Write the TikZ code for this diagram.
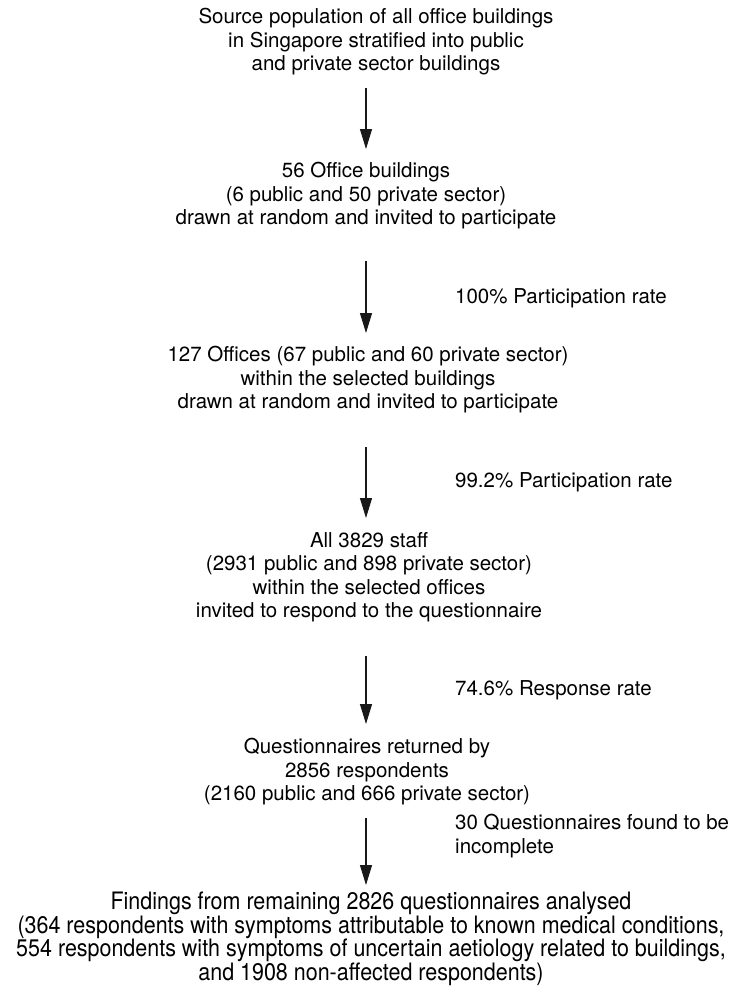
\documentclass[tikz,border=0pt]{standalone}
\usepackage{fontspec}
\setmainfont{TeX Gyre Heros}
\newfontfamily\condfont[FakeStretch=0.895]{TeX Gyre Heros}
\usetikzlibrary{arrows.meta}
\tikzset{
  blk/.style={inner sep=0pt, align=center, font=\fontsize{20.5}{23.5}\selectfont},
  lastblk/.style={inner sep=0pt, align=center, font=\condfont\fontsize{24}{23.5}\selectfont},
  lbl/.style={inner sep=0pt, anchor=west, align=left, font=\fontsize{20.5}{23.5}\selectfont},
  arr/.style={line width=1.2pt, -{Triangle[length=20pt,width=12pt]}, color=black!90}
}
\begin{document}
\begin{tikzpicture}[x=1pt,y=-1pt]
\useasboundingbox (0,0) rectangle (743,994);
\node[blk] (b1) at (376,42) {Source population of all office buildings\\in Singapore stratified into public\\and private sector buildings};
\node[blk] (b2) at (366,196) {56 Office buildings\\(6 public and 50 private sector)\\drawn at random and invited to participate};
\node[blk] (b3) at (368,380) {127 Offices (67 public and 60 private sector)\\within the selected buildings\\drawn at random and invited to participate};
\node[blk] (b4) at (369,577) {All 3829 staff\\(2931 public and 898 private sector)\\within the selected offices\\invited to respond to the questionnaire};
\node[blk] (b5) at (367,772) {Questionnaires returned by\\2856 respondents\\(2160 public and 666 private sector)};
\node[lastblk] (b6) at (371,939) {Findings from remaining 2826 questionnaires analysed\\(364 respondents with symptoms attributable to known medical conditions,\\554 respondents with symptoms of uncertain aetiology related to buildings,\\and 1908 non-affected respondents)};
\node[lbl] (l2) at (455,298) {100\% Participation rate};
\node[lbl] (l3) at (455,482) {99.2\% Participation rate};
\node[lbl] (l4) at (455,690) {74.6\% Response rate};
\node[lbl] (l5) at (455,836) {30 Questionnaires found to be\\incomplete};
\draw[arr] (366,88) -- (366,149);
\draw[arr] (366,261) -- (366,333);
\draw[arr] (366,447) -- (366,518);
\draw[arr] (366,656) -- (366,724);
\draw[arr] (366,818) -- (366,885);
\end{tikzpicture}
\end{document}
